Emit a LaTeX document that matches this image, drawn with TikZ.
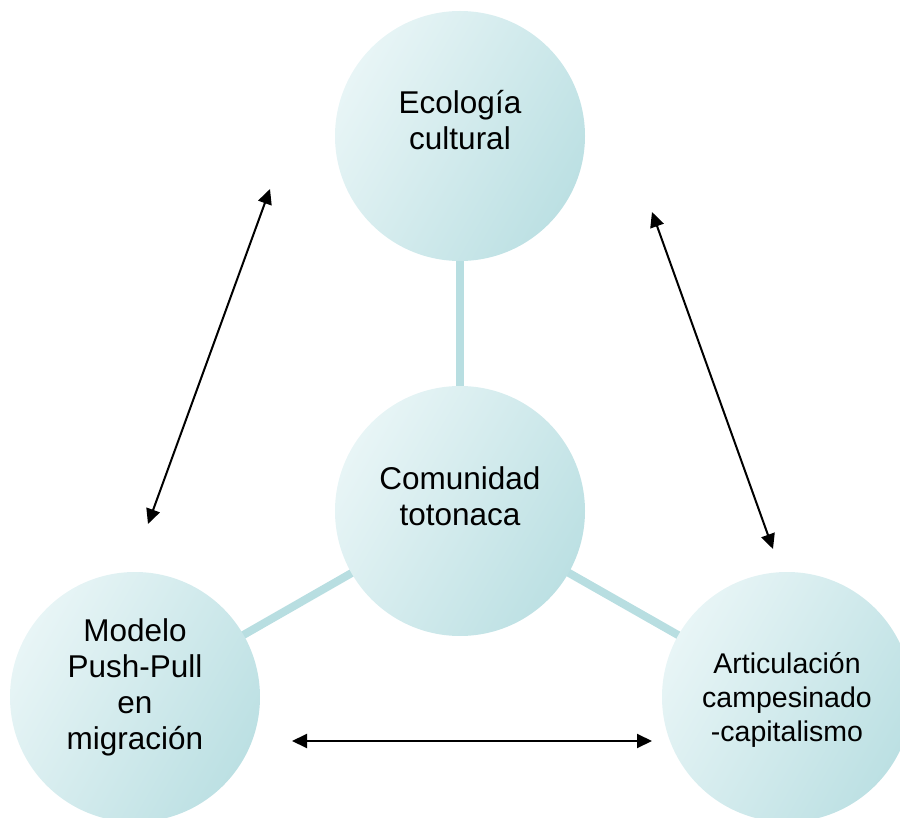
\documentclass[tikz,border=0pt]{standalone}
\usepackage{fontspec}
\setmainfont{Liberation Sans}
\usepackage{xcolor}
\usetikzlibrary{arrows.meta,positioning,backgrounds}

\definecolor{bubblelight}{RGB}{232,245,246}
\definecolor{bubbledark}{RGB}{188,224,227}
\definecolor{linkblue}{RGB}{184,222,225}

\tikzset{
  bubble/.style={circle, minimum size=250pt, inner sep=0pt, align=center,
    shading=axis, left color=bubblelight, right color=bubbledark, shading angle=60,
    font=\fontsize{31.5}{36}\selectfont},
  link/.style={draw=linkblue, line width=8pt},
  relation/.style={{Triangle[length=15pt,width=14pt]}-{Triangle[length=15pt,width=14pt]}, line width=2pt}
}

\begin{document}
\begin{tikzpicture}[x=1pt,y=-1pt]
\clip (0,0) rectangle (900,818);
\node[bubble, text depth=29pt] (comunidad) at (460,511) {Comunidad\\totonaca};
\node[bubble, text depth=32pt] (ecologia) at (460,136) {Ecología\\cultural};
\node[bubble, text depth=25pt] (pushpull) at (135,697) {Modelo\\Push-Pull\\en\\migración};
\node[bubble, text depth=0pt, font=\fontsize{28.5}{34}\selectfont] (articulacion) at (787,697) {Articulación\\campesinado\\-capitalismo};

\begin{scope}[on background layer]
\draw[link] (comunidad.center) -- (ecologia.center);
\draw[link] (comunidad.center) -- (pushpull.center);
\draw[link] (comunidad.center) -- (articulacion.center);
\end{scope}

\coordinate (lefttop) at (270,189);
\coordinate (leftbottom) at (148,524);
\coordinate (righttop) at (652,212);
\coordinate (rightbottom) at (773,549);
\coordinate (bottomleft) at (292,741);
\coordinate (bottomright) at (652,741);

\draw[relation] (lefttop) -- (leftbottom);
\draw[relation] (righttop) -- (rightbottom);
\draw[relation] (bottomleft) -- (bottomright);
\end{tikzpicture}
\end{document}
